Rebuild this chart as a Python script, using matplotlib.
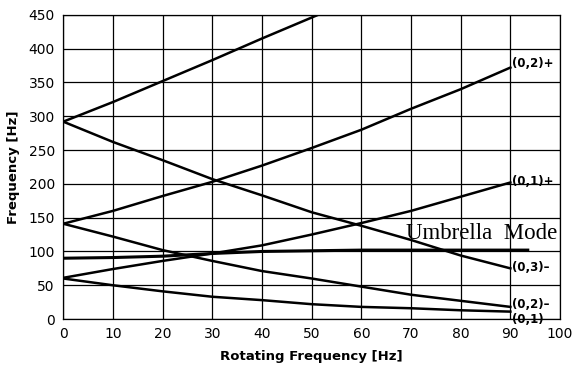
import matplotlib.pyplot as plt

rot = [0, 10, 20, 30, 40, 50, 60, 70, 80, 90]

# forward / backward whirl branches
f03_plus = [292, 321, 352, 383, 415, 446, 477]
rot03_plus = [0, 10, 20, 30, 40, 50, 60]
f02_plus = [141, 160, 182, 203, 227, 253, 280, 311, 340, 372]
f01_plus = [61, 74, 86, 97, 109, 125, 142, 160, 181, 202]
f03_minus = [292, 262, 235, 207, 183, 158, 138, 117, 94, 75]
f02_minus = [141, 122, 102, 86, 71, 60, 48, 36, 27, 18]
f01 = [60, 50, 41, 33, 28, 22, 18, 16, 13, 11]

rot_umb = [0, 10, 20, 30, 40, 50, 60, 70, 80, 93.5]
f_umb = [90, 91, 93, 97, 100, 101, 102, 102, 102, 102]

labels = ["(0,2)+", "(0,1)+", "(0,3)\u2013", "(0,2)\u2013", "(0,1)"]
label_y = [378, 204, 76, 22, 0]

fig = plt.figure(figsize=(5.75, 3.71), dpi=100)
ax = fig.add_axes([0.11, 0.14, 0.864, 0.82])

lw = 1.8
ax.plot(rot03_plus, f03_plus, color="black", lw=lw)
for f in [f02_plus, f01_plus, f03_minus, f02_minus, f01]:
    ax.plot(rot, f, color="black", lw=lw)
ax.plot(rot_umb, f_umb, color="black", lw=2.2)

ax.set_xlim(0, 100)
ax.set_ylim(0, 450)
ax.set_xticks(range(0, 101, 10))
ax.set_yticks(range(0, 451, 50))
ax.grid(True, color="black", lw=0.9)
ax.set_axisbelow(True)
for s in ax.spines.values():
    s.set_linewidth(0.9)
ax.tick_params(length=0, pad=6, labelsize=10)
for t in ax.get_xticklabels() + ax.get_yticklabels():
    t.set_family(["Liberation Sans Narrow", "DejaVu Sans"])

ax.set_xlabel("Rotating Frequency [Hz]", fontsize=9.5, fontweight="bold", labelpad=6)
ax.set_ylabel("Frequency [Hz]", fontsize=9.5, fontweight="bold", labelpad=6)

for lab, y in zip(labels, label_y):
    ax.text(90.3, y, lab, fontsize=8.5, fontweight="bold", va="center",
            ha="left", clip_on=False)

ax.text(69, 126, "Umbrella  Mode", fontsize=16.5, family="Liberation Serif",
        ha="left", va="center", clip_on=False)

fig.savefig("out.png", dpi=100)
